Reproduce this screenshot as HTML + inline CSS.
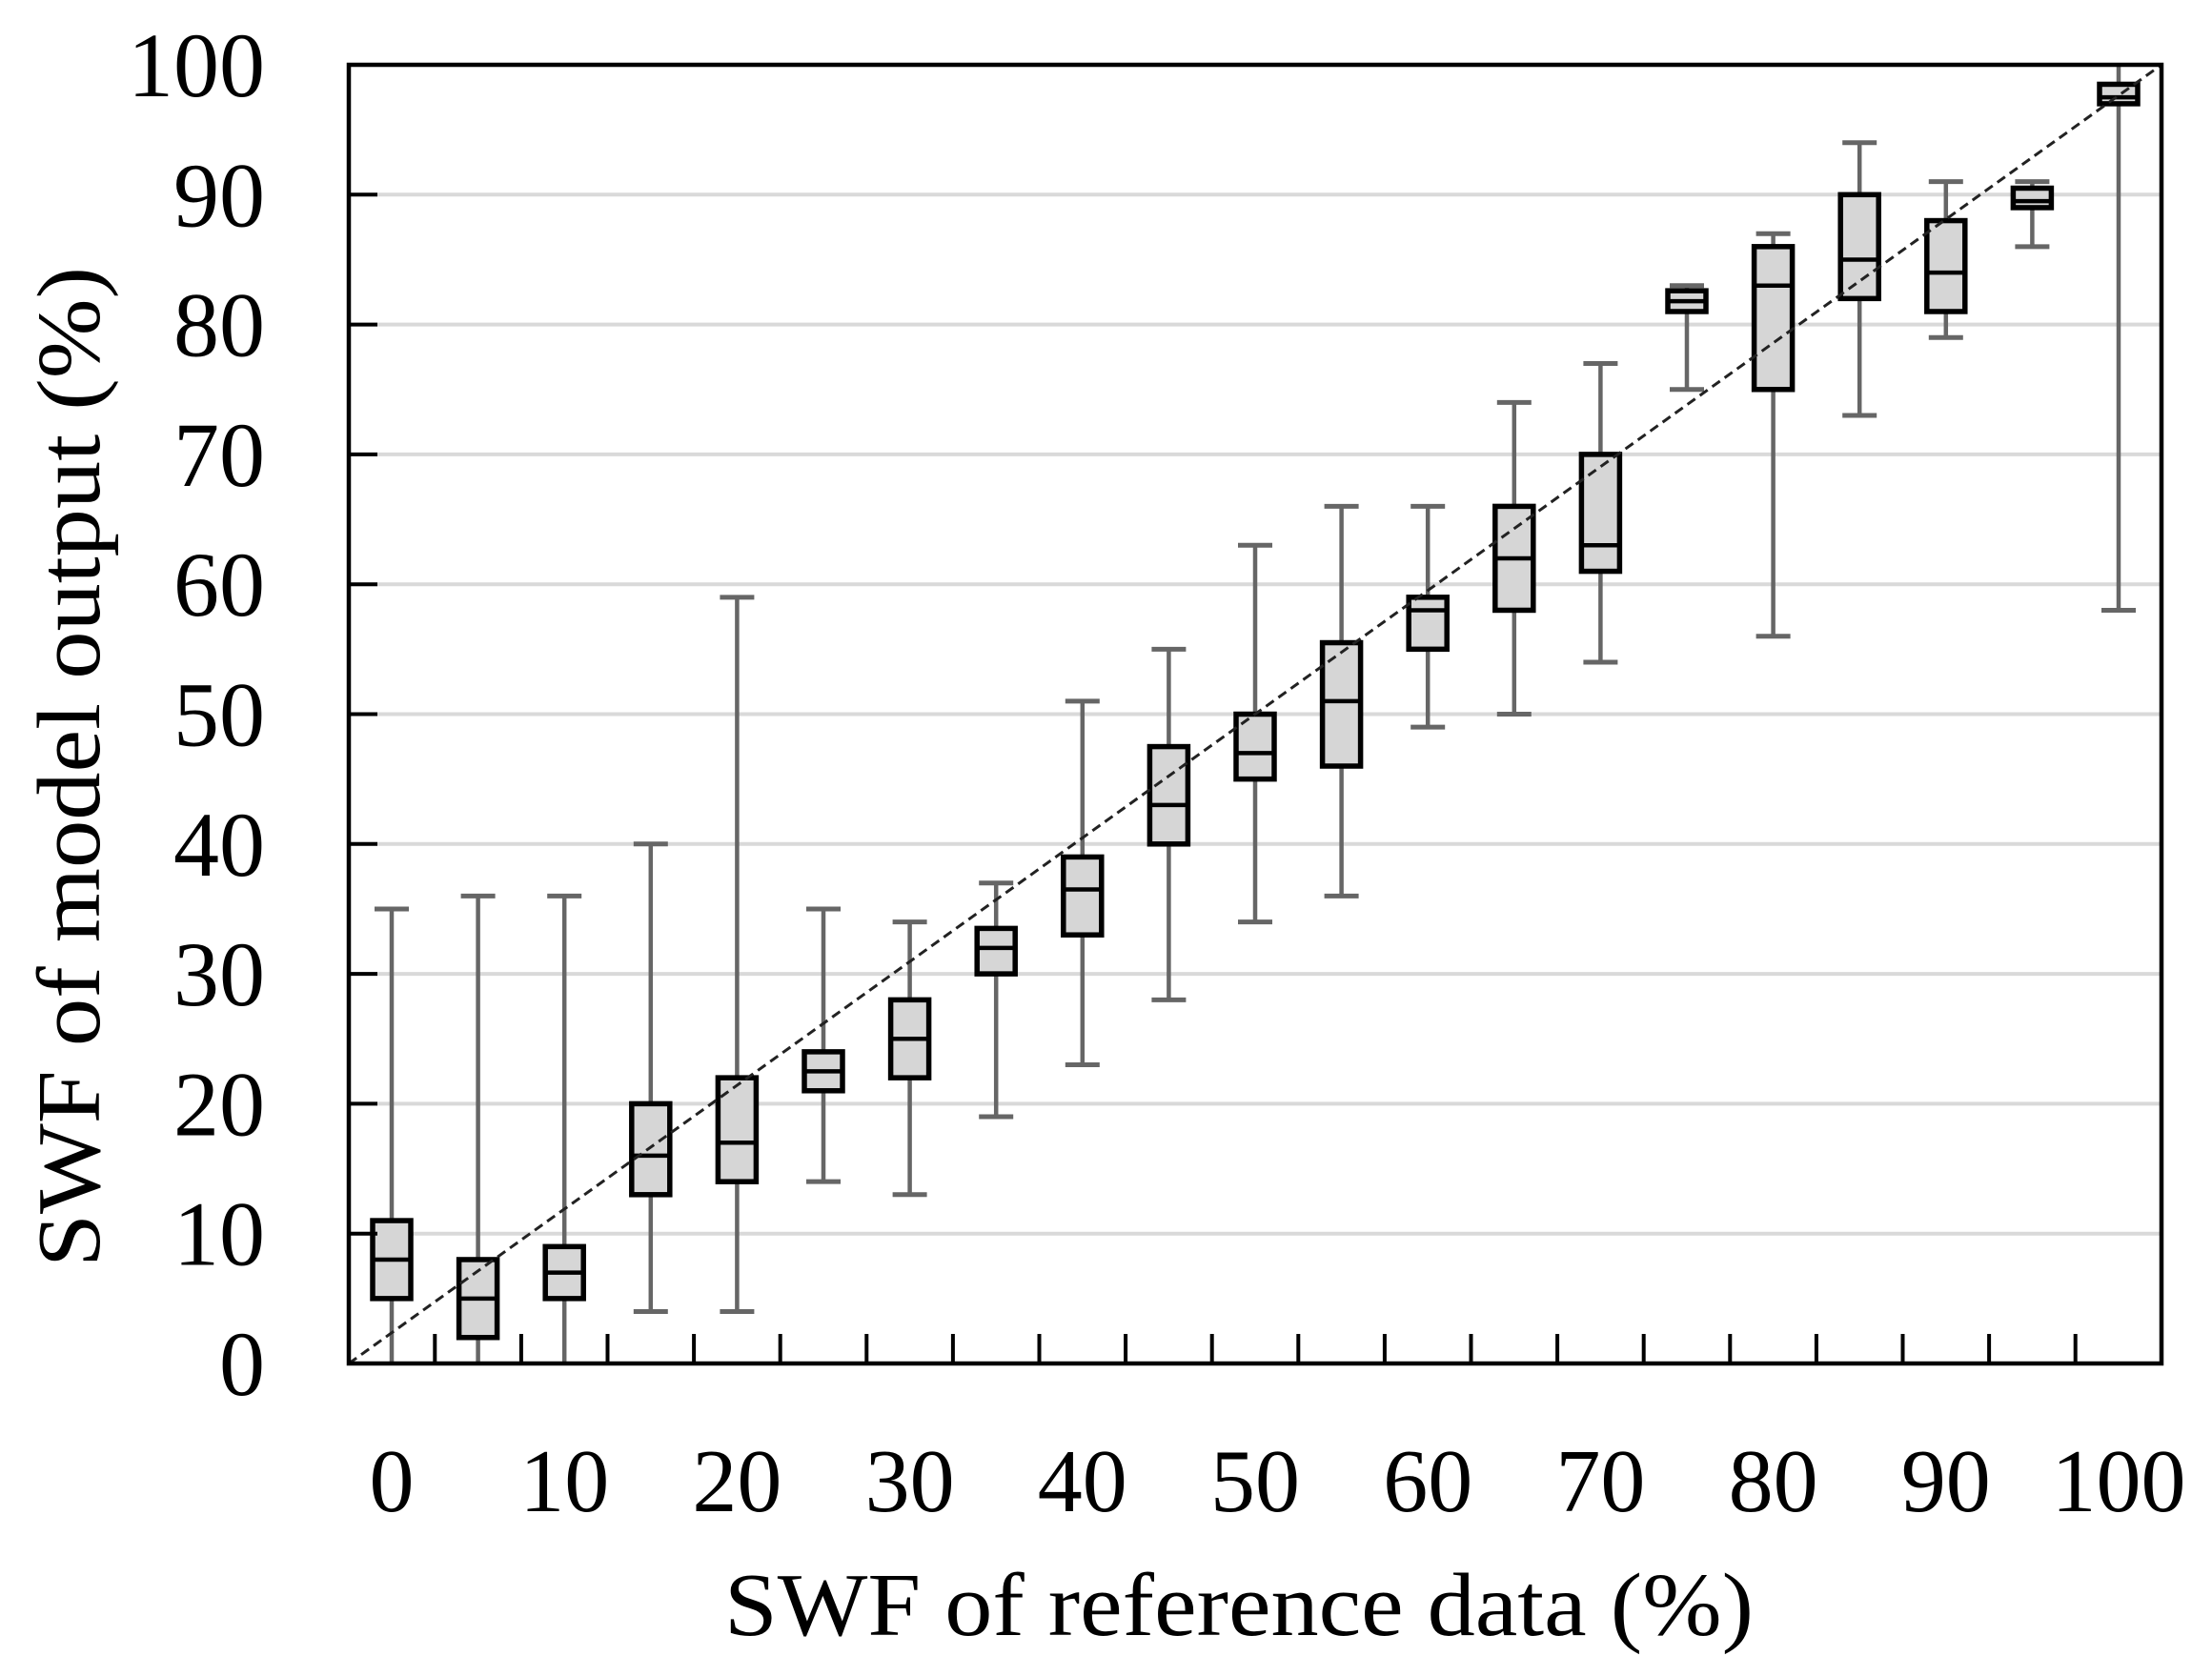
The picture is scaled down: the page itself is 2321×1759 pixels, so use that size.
<!DOCTYPE html>
<html><head><meta charset="utf-8"><style>html,body{margin:0;padding:0;background:#fff}svg{display:block}</style></head>
<body>
<svg width="2321" height="1759" viewBox="0 0 2321 1759" xmlns="http://www.w3.org/2000/svg" font-family="Liberation Serif, serif">
<rect width="2321" height="1759" fill="#fff"/>
<g id="grid" stroke="#d9d9d9" stroke-width="4"></g>
<g id="boxes"></g>
<line x1="366" y1="1431" x2="2268" y2="68" stroke="#222" stroke-width="3" stroke-dasharray="10,6"/>
<rect x="366" y="68" width="1902" height="1363" fill="none" stroke="#000" stroke-width="4.5"/>
<g id="ticks" stroke="#000" stroke-width="4"></g>
<g font-size="96" fill="#000" text-anchor="end" id="ylab"></g>
<g font-size="94" fill="#000" text-anchor="middle" id="xlab"></g>
<text x="1300" y="1716" font-size="94" text-anchor="middle" textLength="1080" lengthAdjust="spacingAndGlyphs">SWF of reference data (%)</text>
<text transform="translate(104,805) rotate(-90)" font-size="94" text-anchor="middle" textLength="1050" lengthAdjust="spacingAndGlyphs">SWF of model output (%)</text>
<script>
const Y=v=>1431-v*13.63, X=c=>411+c*18.12, ns="http://www.w3.org/2000/svg";
function el(p,t,a,txt){const e=document.createElementNS(ns,t);for(const k in a)e.setAttribute(k,a[k]);if(txt!==undefined)e.textContent=txt;document.getElementById(p).appendChild(e);}
for(let v=10;v<=90;v+=10)el("grid","line",{x1:366,x2:2268,y1:Y(v),y2:Y(v)});
const d=[[0,0,5,8,11,35],[5,0,2,5,8,36],[10,0,5,7,9,36],[15,4,13,16,20,40],[20,4,14,17,22,59],[25,14,21,22.5,24,35],[30,13,22,25,28,34],[35,19,30,32,33.5,37],[40,23,33,36.5,39,51],[45,28,40,43,47.5,55],[50,34,45,47,50,63],[55,36,46,51,55.5,66],[60,49,55,58,59,66],[65,50,58,62,66,74],[70,54,61,63,70,77],[75,75,81,81.8,82.6,83],[80,56,75,83,86,87],[85,73,82,85,90,94],[90,79,81,84,88,91],[95,86,89,89.5,90.5,91],[100,58,97,97.5,98.5,100]];
for(const [c,lo,q1,m,q3,hi] of d){const x=X(c);
el("boxes","line",{x1:x,x2:x,y1:Y(lo),y2:Y(hi),stroke:"#666","stroke-width":4.5});
if(lo>0)el("boxes","line",{x1:x-18,x2:x+18,y1:Y(lo),y2:Y(lo),stroke:"#666","stroke-width":5});
if(hi<100)el("boxes","line",{x1:x-18,x2:x+18,y1:Y(hi),y2:Y(hi),stroke:"#666","stroke-width":5});
el("boxes","rect",{x:x-20,y:Y(q3),width:40,height:Y(q1)-Y(q3),fill:"#d6d6d6",stroke:"#000","stroke-width":5.5});
el("boxes","line",{x1:x-20,x2:x+20,y1:Y(m),y2:Y(m),stroke:"#000","stroke-width":4.5});}
for(let i=1;i<=20;i++){const x=X(i*5-2.5);el("ticks","line",{x1:x,x2:x,y1:1431,y2:1400});}
for(let v=10;v<=90;v+=10)el("ticks","line",{x1:366,x2:396,y1:Y(v),y2:Y(v)});
for(let v=0;v<=100;v+=10)el("ylab","text",{x:278,y:Y(v)+33},String(v));
for(let v=0;v<=100;v+=10)el("xlab","text",{x:X(v),y:1586},String(v));
</script>
</svg>
</body></html>
